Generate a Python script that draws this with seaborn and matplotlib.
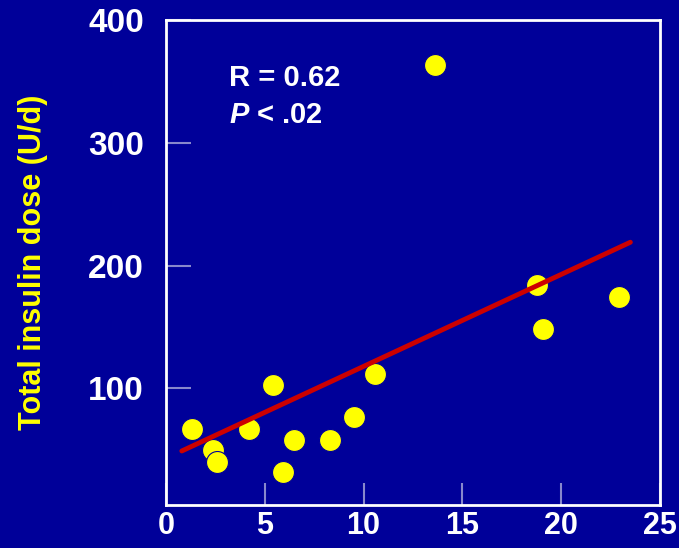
import matplotlib.pyplot as plt
import seaborn as sns

# Values
body_fat = [1.3, 2.4, 2.6, 4.2, 5.4, 6.5, 5.9, 8.3, 9.5, 10.6, 18.8, 19.1, 22.9, 13.6]
insulin_dose = [67, 50, 40, 67, 103, 58, 32, 58, 77, 112, 184, 148, 174, 363]

# regression line end points
fit_x = [0.8, 23.5]
fit_y = [49, 219]

x_ticks = [0, 5, 10, 15, 20, 25]
y_ticks = [100, 200, 300, 400]

bg = '#000099'
sns.set_style('ticks', {'axes.facecolor': bg, 'figure.facecolor': bg,
                        'axes.edgecolor': 'white'})
plt.rcParams['font.family'] = ['Liberation Sans', 'DejaVu Sans']
plt.rcParams['font.weight'] = 'bold'
plt.rcParams['mathtext.fontset'] = 'custom'
plt.rcParams['mathtext.it'] = 'Liberation Sans:italic:bold'
plt.rcParams['mathtext.rm'] = 'Liberation Sans:bold'

fig = plt.figure(figsize=(6.79, 5.48), dpi=100)
ax = fig.add_axes([166 / 679, 43 / 548, 494 / 679, 485 / 548])

sns.scatterplot(x=body_fat, y=insulin_dose, s=250, color='#ffff00',
                edgecolor=bg, linewidth=0.8, zorder=3, ax=ax)
sns.lineplot(x=fit_x, y=fit_y, color='#cc0000', linewidth=3.5, zorder=4, ax=ax)

ax.set_xlim(0, 25)
ax.set_ylim(5, 400)
ax.set_xticks(x_ticks)
ax.set_yticks(y_ticks)

for side in ['top', 'right', 'bottom', 'left']:
    ax.spines[side].set_visible(True)
    ax.spines[side].set_color('white')
    ax.spines[side].set_linewidth(2)

ax.tick_params(axis='x', direction='in', length=16, width=1.5, color='#8888cc',
               labelcolor='white', labelsize=22, pad=4)
ax.tick_params(axis='y', direction='in', length=18, width=1.5, color='#8888cc',
               labelcolor='white', labelsize=24, pad=16)

ax.set_ylabel('Total insulin dose (U/d)', color='#ffff00', fontsize=22,
              fontweight='bold')
ax.yaxis.set_label_coords(-0.238, 0.5)

ax.text(0.127, 0.881, 'R = 0.62', transform=ax.transAxes, color='white',
        fontsize=21, fontweight='bold', va='center', ha='left')
ax.text(0.127, 0.805, '$P$ < .02', transform=ax.transAxes, color='white',
        fontsize=21, fontweight='bold', va='center', ha='left')

plt.savefig('out.png', dpi=100, facecolor=bg)
